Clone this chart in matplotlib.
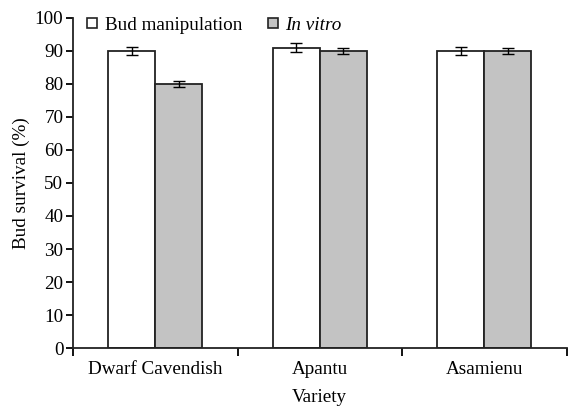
import numpy as np
import matplotlib.pyplot as plt
from matplotlib.lines import Line2D

plt.rcParams["font.family"] = ["Liberation Serif", "DejaVu Serif"]

varieties = ["Dwarf Cavendish", "Apantu", "Asamienu"]
bud_manip = [90, 91, 90]
bud_manip_err = [1.3, 1.3, 1.3]
in_vitro = [80, 90, 90]
in_vitro_err = [1.0, 1.0, 0.8]

fs = 13.8
fig = plt.figure(figsize=(5.68, 4.08), dpi=100)
ax = fig.add_axes([0.1285, 0.147, 0.869, 0.809])

x = np.arange(len(varieties)) + 0.5
w = 0.285
err_kw = dict(ecolor="black", elinewidth=1.0, capsize=4.5, capthick=1.0)
ax.bar(x - w / 2, bud_manip, w, color="white", edgecolor="#222222", linewidth=1.3,
       yerr=bud_manip_err, error_kw=err_kw)
ax.bar(x + w / 2, in_vitro, w, color="#c3c3c3", edgecolor="#222222", linewidth=1.3,
       yerr=in_vitro_err, error_kw=err_kw)

ax.set_xlim(0, 3)
ax.set_ylim(0, 100)
ax.set_yticks(range(0, 101, 10))
ax.set_xticks([0, 1, 2, 3])
ax.set_xticklabels([])
ax.set_xticks(x, minor=True)
ax.set_xticklabels(varieties, minor=True)
ax.tick_params(axis="x", which="minor", length=0, pad=9, labelsize=fs)
ax.tick_params(axis="x", which="major", length=6, width=1.3, direction="out")
ax.tick_params(axis="y", length=5, width=1.3, direction="out", labelsize=fs, pad=2)

for s in ["top", "right"]:
    ax.spines[s].set_visible(False)
for s in ["left", "bottom"]:
    ax.spines[s].set_linewidth(1.3)
    ax.spines[s].set_color("#222222")

ax.set_xlabel("Variety", fontsize=fs, labelpad=8)
ax.set_ylabel("Bud survival (%)", fontsize=fs, labelpad=3)

handles = [
    Line2D([], [], marker="s", linestyle="none", markersize=6.5, markerfacecolor="white",
           markeredgecolor="#222222", markeredgewidth=1.2),
    Line2D([], [], marker="s", linestyle="none", markersize=6.5, markerfacecolor="#c3c3c3",
           markeredgecolor="#222222", markeredgewidth=1.2),
]
leg = ax.legend(handles, ["Bud manipulation", "In vitro"], ncol=2, frameon=False,
                loc="upper left", bbox_to_anchor=(0.0, 1.045), fontsize=fs,
                handlelength=0.6, handletextpad=0.35, columnspacing=1.3, borderaxespad=0.3)
leg.get_texts()[1].set_fontstyle("italic")

fig.savefig("out.png", dpi=100)
